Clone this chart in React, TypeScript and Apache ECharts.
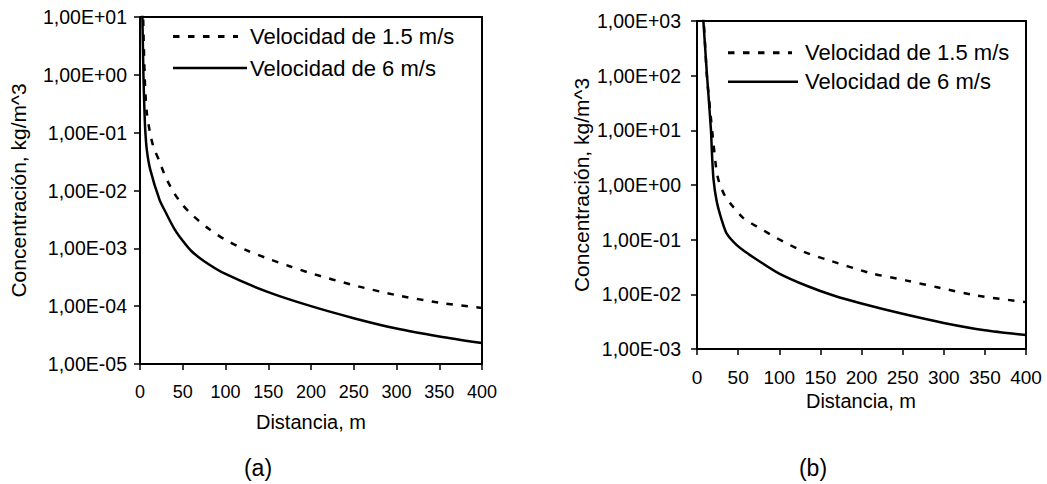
import React, { useEffect, useRef } from "react";
import * as echarts from "echarts";

// Panel (a): concentration vs distance
const xA15 = [3, 4.5, 6, 8, 12, 16, 22, 30, 40, 50, 60, 80, 100, 125, 150, 175, 200, 250, 300, 350, 400];
const yA15 = [30, 3, 0.6, 0.22, 0.095, 0.055, 0.034, 0.017, 0.009, 0.0056, 0.0039, 0.0022, 0.0014, 9.2e-4, 6.6e-4, 4.9e-4, 3.7e-4, 2.3e-4, 1.55e-4, 1.15e-4, 9.3e-5];
const xA6 = [2, 4, 5, 6, 8, 12, 23, 30, 40, 50, 60, 75, 100, 150, 200, 250, 300, 350, 400];
const yA6 = [50, 1.0, 0.3, 0.12, 0.05, 0.023, 0.0068, 0.0042, 0.0022, 0.00135, 9.0e-4, 6.0e-4, 3.6e-4, 1.75e-4, 1.0e-4, 6.2e-5, 4.1e-5, 3.0e-5, 2.3e-5];

// Panel (b): concentration vs distance
const xB15 = [7.5, 10, 12, 16, 20, 24, 28, 36, 40, 56, 77, 97, 130, 158, 211, 255, 292, 340, 400];
const yB15 = [1500, 335, 100, 23, 5.8, 1.7, 1.0, 0.55, 0.47, 0.25, 0.16, 0.107, 0.06, 0.043, 0.0245, 0.0178, 0.0135, 0.0095, 0.0072];
const xB6 = [7, 12, 17, 18, 20, 24, 30, 36, 48, 60, 73, 100, 134, 166, 200, 250, 300, 350, 400];
const yB6 = [1500, 110, 10, 4.4, 1.3, 0.5, 0.23, 0.13, 0.08, 0.058, 0.043, 0.024, 0.0142, 0.0095, 0.0068, 0.0044, 0.003, 0.0022, 0.0018];

const yTicksA = ["1,00E-05", "1,00E-04", "1,00E-03", "1,00E-02", "1,00E-01", "1,00E+00", "1,00E+01"];
const yTicksB = ["1,00E-03", "1,00E-02", "1,00E-01", "1,00E+00", "1,00E+01", "1,00E+02", "1,00E+03"];

const seriesNames = ["Velocidad de 1.5 m/s", "Velocidad de 6 m/s"];
const xTitle = "Distancia, m";
const yTitle = "Concentración, kg/m^3";
const captions = ["(a)", "(b)"];

const FONT = "'Liberation Sans', Arial, sans-serif";
const DASH = [6.5, 8.5];

const pairs = (xs: number[], ys: number[]) => xs.map((x, i) => [x, ys[i]]);

export default function App() {
  const ref = useRef<HTMLDivElement>(null);

  useEffect(() => {
    if (!ref.current) return;
    const chart = echarts.init(ref.current, null, { renderer: "svg" });

    const xAxisBase = (gridIndex: number, fontSize: number) => ({
      type: "value" as const,
      gridIndex,
      min: 0,
      max: 400,
      interval: 50,
      axisLine: { show: true, lineStyle: { color: "#000", width: 2 } },
      axisTick: { show: true, length: 6, lineStyle: { color: "#000", width: 1.5 } },
      axisLabel: { color: "#000", fontSize, fontFamily: FONT, margin: 19 },
      splitLine: { show: false },
    });

    const yAxisBase = (gridIndex: number, min: number, max: number, labels: string[], offset: number, margin: number) => ({
      type: "log" as const,
      logBase: 10,
      gridIndex,
      min,
      max,
      axisLine: { show: true, lineStyle: { color: "#000", width: 2 } },
      axisTick: { show: true, length: 6, lineStyle: { color: "#000", width: 1.5 } },
      axisLabel: {
        color: "#000",
        fontSize: 19.5,
        fontFamily: FONT,
        margin,
        formatter: (v: number) => labels[Math.round(Math.log10(v)) + offset],
      },
      splitLine: { show: false },
    });

    const lineSeries = (name: string, idx: number, data: number[][], dashed: boolean) => ({
      name,
      type: "line" as const,
      xAxisIndex: idx,
      yAxisIndex: idx,
      data,
      showSymbol: false,
      symbol: "none",
      clip: true,
      smooth: 0.25,
      lineStyle: { color: "#000", width: 2.5, type: dashed ? DASH : "solid" },
    });

    const legendBlock = (x0: number, y1: number, y2: number, textX: number, dashEnd: number, solidEnd: number) => [
      {
        type: "line",
        shape: { x1: x0, y1, x2: dashEnd, y2: y1 },
        style: { stroke: "#000", lineWidth: 3, lineDash: DASH },
      },
      {
        type: "text",
        x: textX,
        y: y1,
        style: { text: seriesNames[0], fill: "#000", font: `22px ${FONT}`, textAlign: "left", textVerticalAlign: "middle" },
      },
      {
        type: "line",
        shape: { x1: x0, y1: y2, x2: solidEnd, y2 },
        style: { stroke: "#000", lineWidth: 2.5 },
      },
      {
        type: "text",
        x: textX,
        y: y2,
        style: { text: seriesNames[1], fill: "#000", font: `22px ${FONT}`, textAlign: "left", textVerticalAlign: "middle" },
      },
    ];

    const textAt = (text: string, x: number, y: number, size: number, rotation = 0) => ({
      type: "text",
      x,
      y,
      rotation,
      style: { text, fill: "#000", font: `${size}px ${FONT}`, textAlign: "center", textVerticalAlign: "middle" },
    });

    chart.setOption({
      animation: false,
      backgroundColor: "#fff",
      grid: [
        { left: 140, top: 17, width: 342, height: 347, show: true, borderColor: "#000", borderWidth: 2, backgroundColor: "transparent" },
        { left: 697, top: 21, width: 329, height: 328, show: true, borderColor: "#000", borderWidth: 2, backgroundColor: "transparent" },
      ],
      xAxis: [xAxisBase(0, 18), xAxisBase(1, 19)],
      yAxis: [yAxisBase(0, 1e-5, 10, yTicksA, 5, 13), yAxisBase(1, 1e-3, 1e3, yTicksB, 3, 16)],
      series: [
        lineSeries(seriesNames[0], 0, pairs(xA15, yA15), true),
        lineSeries(seriesNames[1], 0, pairs(xA6, yA6), false),
        lineSeries(seriesNames[0], 1, pairs(xB15, yB15), true),
        lineSeries(seriesNames[1], 1, pairs(xB6, yB6), false),
      ],
      graphic: [
        ...legendBlock(173, 36.5, 68, 250, 238, 247),
        ...legendBlock(728, 52.7, 81.7, 805, 792, 798),
        textAt(yTitle, 18, 190.5, 21, Math.PI / 2),
        textAt(yTitle, 581, 185, 21, Math.PI / 2),
        textAt(xTitle, 311, 422, 20),
        textAt(xTitle, 861, 400.5, 20),
        textAt(captions[0], 258, 468, 23),
        textAt(captions[1], 813, 468, 23),
      ],
    });

    return () => chart.dispose();
  }, []);

  return (
    <div
      ref={ref}
      style={{ position: "fixed", left: 0, top: 0, width: 1047, height: 484, background: "#fff" }}
    />
  );
}
